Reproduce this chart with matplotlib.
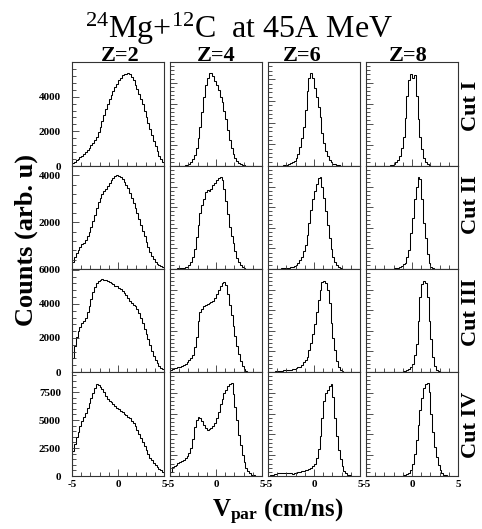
import numpy as np
import matplotlib
matplotlib.use("Agg")
import matplotlib.pyplot as plt
from matplotlib.ticker import FixedLocator, MultipleLocator, AutoMinorLocator, MaxNLocator, NullFormatter

plt.rcParams["font.family"] = ["Liberation Serif", "DejaVu Serif"]
plt.rcParams["mathtext.fontset"] = "custom"
plt.rcParams["mathtext.rm"] = "Liberation Serif"
plt.rcParams["mathtext.bf"] = "Liberation Serif:bold"
plt.rcParams["mathtext.it"] = "Liberation Serif:italic"

# ---- histogram binning: V_par from -5 to 5 cm/ns, 50 bins ----
vpar_edges = np.linspace(-5, 5, 51)
x_ticks = [-5, 0, 5]

charges = ["Z=2", "Z=4", "Z=6", "Z=8"]
cuts = ["Cut I", "Cut II", "Cut III", "Cut IV"]

# ---- counts per bin ----
cut1_z2 = [150, 250, 350, 430, 520, 600, 700, 800, 920, 1050, 1200, 1350, 1500, 1700, 1950,
           2250, 2600, 2950, 3300, 3600, 3850, 4100, 4350, 4550, 4750, 4950, 5100, 5250, 5300, 5330,
           5350, 5280, 5150, 4950, 4700, 4450, 4150, 3850, 3550, 3200, 2850, 2500, 2150, 1800, 1450,
           1150, 850, 600, 400, 250]
cut1_z4 = [0, 0, 0, 0, 5, 5, 10, 10, 20, 35, 60, 110, 200, 320, 520, 800, 1130, 1550, 1980, 2350,
           2550, 2670, 2680, 2600, 2450, 2330, 2180, 2000, 1850, 1600, 1350, 1050, 750, 520, 360,
           240, 150, 90, 55, 30, 15, 8, 5, 0, 0, 0, 0, 0, 0, 0]
cut1_z6 = [0, 0, 0, 0, 0, 2, 3, 5, 8, 10, 15, 20, 30, 42, 60, 90, 140, 220, 320, 450,
           650, 860, 1010, 1070, 1010, 900, 800, 680, 560, 380, 260, 170, 110, 75, 45,
           28, 18, 10, 6, 3, 0, 0, 0, 0, 0, 0, 0, 0, 0, 0]
cut1_z8 = [0, 0, 0, 0, 0, 0, 0, 0, 0, 0, 0, 0, 0, 2, 4, 8, 14, 25, 40, 70,
           110, 185, 270, 330, 355, 340, 350, 270, 180, 110, 65, 30, 14, 6, 3,
           0, 0, 0, 0, 0, 0, 0, 0, 0, 0, 0, 0, 0, 0, 0]

cut2_z2 = [300, 500, 680, 830, 950, 1050, 1130, 1250, 1400, 1570, 1800, 2050, 2300, 2600, 2850,
           3050, 3200, 3330, 3430, 3550, 3680, 3800, 3900, 3980, 4010, 3960, 3920, 3850, 3720, 3580,
           3450, 3250, 3020, 2830, 2600, 2380, 2150, 1900, 1640, 1400, 1150, 940, 730, 560, 420,
           310, 230, 170, 120, 80]
cut2_z4 = [5, 8, 10, 12, 15, 20, 25, 35, 45, 60, 100, 170, 290, 480, 780, 1080, 1350, 1560, 1700, 1860,
           1920, 1900, 1940, 2030, 2080, 2160, 2200, 2240, 2150, 1950, 1650, 1330, 1030, 800, 620,
           430, 260, 170, 90, 40, 15, 8, 0, 0, 0, 0, 0, 0, 0, 0]
cut2_z6 = [0, 0, 0, 0, 2, 3, 4, 5, 6, 8, 10, 13, 17, 22, 28, 38, 55, 85, 120, 175,
           230, 330, 450, 570, 680, 760, 830, 880, 890, 800, 690, 560, 430, 300, 190,
           120, 70, 40, 20, 10, 4, 0, 0, 0, 0, 0, 0, 0, 0, 0]
cut2_z8 = [0, 0, 0, 0, 0, 0, 0, 0, 0, 0, 0, 0, 0, 0, 0, 2, 3, 5, 8, 12,
           18, 25, 45, 75, 140, 200, 270, 320, 358, 350, 270, 180, 120, 60, 25,
           8, 3, 0, 0, 0, 0, 0, 0, 0, 0, 0, 0, 0, 0, 0]

cut3_z2 = [800, 1500, 2050, 2400, 2650, 2850, 3000, 3200, 3500, 3900, 4300, 4700, 5000, 5200, 5350,
           5400, 5450, 5420, 5380, 5330, 5280, 5220, 5150, 5080, 5030, 4950, 4870, 4780, 4650, 4500,
           4320, 4170, 4050, 3950, 3850, 3700, 3450, 3150, 2850, 2550, 2250, 1950, 1600, 1250, 950,
           700, 520, 370, 250, 150]
cut3_z4 = [40, 80, 95, 105, 115, 125, 140, 165, 200, 250, 300, 350, 420, 600, 860, 1250, 1450, 1530, 1590, 1620,
           1660, 1680, 1700, 1720, 1800, 1900, 2000, 2080, 2150, 2190, 2120, 1900, 1620, 1380, 1110,
           870, 630, 430, 260, 140, 70, 20, 0, 0, 0, 0, 0, 0, 0, 0]
cut3_z6 = [0, 0, 2, 4, 6, 8, 10, 14, 18, 16, 20, 22, 24, 28, 32, 38, 45, 52, 70, 95,
           120, 150, 210, 280, 370, 470, 580, 700, 800, 870, 885, 860, 800, 670, 480,
           330, 210, 110, 50, 20, 8, 3, 0, 0, 0, 0, 0, 0, 0, 0]
cut3_z8 = [0, 0, 0, 0, 0, 0, 0, 0, 0, 0, 0, 0, 0, 0, 0, 0, 0, 0, 0, 0,
           2, 4, 7, 12, 20, 32, 65, 110, 200, 290, 340, 352, 345, 290, 200,
           130, 60, 25, 8, 3, 0, 0, 0, 0, 0, 0, 0, 0, 0, 0]

cut4_z2 = [2200, 2900, 3450, 3950, 4450, 4950, 5300, 5650, 6050, 6500, 6950, 7450, 7900, 8200, 8150,
           8000, 7800, 7500, 7150, 6900, 6750, 6600, 6450, 6300, 6100, 5950, 5800, 5700, 5550, 5420,
           5300, 5150, 4950, 4750, 4450, 4100, 3750, 3400, 3000, 2650, 2300, 1950, 1650, 1400, 1150,
           950, 780, 640, 500, 380]
cut4_z4 = [80, 170, 200, 220, 250, 275, 290, 310, 350, 390, 440, 530, 720, 940, 1080, 1140, 1110, 1060, 980, 920,
           890, 900, 920, 960, 1010, 1120, 1230, 1380, 1490, 1590, 1660, 1730, 1770, 1780, 1580,
           1320, 1080, 780, 590, 400, 260, 160, 90, 50, 25, 10, 0, 0, 0, 0]
cut4_z6 = [0, 5, 10, 15, 20, 25, 30, 32, 33, 32, 30, 27, 25, 24, 26, 28, 35, 42, 48, 52,
           57, 62, 70, 80, 92, 120, 170, 260, 380, 560, 720, 800, 830, 870, 880,
           760, 560, 380, 250, 160, 95, 50, 25, 12, 5, 0, 0, 0, 0, 0]
cut4_z8 = [0, 0, 0, 0, 0, 0, 0, 0, 0, 0, 0, 0, 0, 0, 0, 0, 0, 0, 0, 1,
           2, 4, 6, 12, 22, 45, 85, 140, 195, 255, 300, 340, 352, 356, 325,
           240, 170, 110, 75, 42, 25, 12, 5, 2, 0, 0, 0, 0, 0, 0]

histograms = [
    [cut1_z2, cut1_z4, cut1_z6, cut1_z8],
    [cut2_z2, cut2_z4, cut2_z6, cut2_z8],
    [cut3_z2, cut3_z4, cut3_z6, cut3_z8],
    [cut4_z2, cut4_z4, cut4_z6, cut4_z8],
]

# upper y limit of each pad
y_max = [
    [6000, 3000, 1200, 400],
    [4400, 2500, 1000, 400],
    [6050, 2500, 1000, 400],
    [9300, 2000, 1000, 400],
]

# labelled y ticks on the left-most pads
y_ticks_left = [
    [0, 2000, 4000],
    [0, 2000, 4000],
    [0, 2000, 4000, 6000],
    [0, 2500, 5000, 7500],
]
y_labels_left = [
    ["0", "2000", "4000"],
    ["", "2000", "4000"],
    ["0", "2000", "4000", "6000"],
    ["0", "2500", "5000", "7500"],
]

# ---- figure layout (pixel geometry of the pad grid) ----
W, H = 482, 529
fig = plt.figure(figsize=(W / 100, H / 100), dpi=100)

col_left = [72, 170, 268, 366]
col_width = 92
row_top = [62, 166, 269, 372]
row_bot = [166, 269, 372, 476]

frame_col = "#333333"
bold = dict(fontweight="bold")

for r in range(4):
    for c in range(4):
        ax = fig.add_axes([col_left[c] / W, 1 - row_bot[r] / H,
                           col_width / W, (row_bot[r] - row_top[r]) / H])
        ax.stairs(histograms[r][c], vpar_edges, color="black", lw=0.75)
        ax.set_xlim(-5, 5)
        ax.set_ylim(0, y_max[r][c])
        for s in ax.spines.values():
            s.set_color(frame_col)
            s.set_linewidth(0.8)
        ax.tick_params(which="both", direction="in", top=False, right=False,
                       color=frame_col, width=0.6)
        ax.tick_params(which="major", length=5)
        ax.tick_params(which="minor", length=3)
        ax.xaxis.set_major_locator(FixedLocator(x_ticks))
        ax.xaxis.set_minor_locator(MultipleLocator(1))
        if r == 3:
            ax.set_xticklabels([str(t) for t in x_ticks], fontsize=8, **bold)
            ax.tick_params(axis="x", pad=3)
        else:
            ax.xaxis.set_major_formatter(NullFormatter())
        if c == 0:
            ax.yaxis.set_major_locator(FixedLocator(y_ticks_left[r]))
            ax.set_yticklabels(y_labels_left[r], fontsize=8, **bold)
            ax.tick_params(axis="y", pad=8)
        else:
            ax.yaxis.set_major_locator(MaxNLocator(nbins=5))
            ax.yaxis.set_major_formatter(NullFormatter())
        ax.yaxis.set_minor_locator(AutoMinorLocator(5))

# ---- titles and axis labels ----
fig.text(239 / W, 1 - 38 / H, r"$^{24}$Mg+$^{12}$C  at 45A MeV",
         ha="center", va="baseline", fontsize=23)

z_x = [120, 216, 302, 408]
for x, z in zip(z_x, charges):
    fig.text(x / W, 1 - 61 / H, z, ha="center", va="baseline", fontsize=16, **bold)

cut_y = [106, 205, 312, 425]
for y, cut in zip(cut_y, cuts):
    fig.text(471 / W, 1 - y / H, cut, ha="center", va="center", rotation=90,
             fontsize=16, **bold)

fig.text(26 / W, 1 - 240 / H, "Counts (arb. u)", ha="center", va="center",
         rotation=90, fontsize=19, **bold)

fig.text(278 / W, 1 - 517 / H, r"V$_{\mathbf{par}}$ (cm/ns)", ha="center",
         va="baseline", fontsize=18, **bold)

fig.savefig("out.png", dpi=100, facecolor="white")
